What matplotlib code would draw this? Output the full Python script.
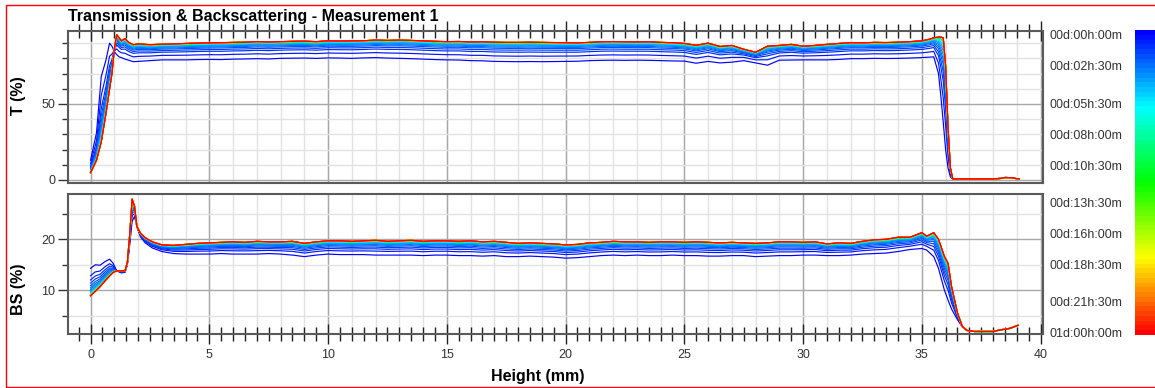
import numpy as np
import matplotlib.pyplot as plt
from matplotlib.colors import ListedColormap, hsv_to_rgb
from matplotlib.patches import Rectangle
from matplotlib.ticker import MultipleLocator

plt.rcParams['font.family'] = ['Liberation Sans', 'DejaVu Sans']

# scan times (hours) and plateau level of each scan read at 10 mm
scan_hours = [0, 0.5, 1, 1.5, 2, 2.5, 3, 3.5, 4, 5, 6, 7, 8, 9, 10, 11, 12,
              13, 14, 15, 16, 17, 18, 19, 20, 21, 22, 23, 24]
t_plateau = [80.3, 83.5, 85.8, 87.0, 88.0, 88.7, 89.3, 89.8, 90.2, 90.6,
             90.9, 91.1, 91.2, 91.25, 91.3, 91.32, 91.35, 91.37, 91.4, 91.42,
             91.43, 91.44, 91.45, 91.46, 91.47, 91.48, 91.5, 91.5, 91.5]
bs_plateau = [17.1, 17.8, 18.2, 18.5, 18.75, 18.95, 19.1, 19.25, 19.35, 19.45,
              19.52, 19.56, 19.6, 19.62, 19.63, 19.64, 19.65, 19.66, 19.66,
              19.67, 19.68, 19.68, 19.69, 19.69, 19.7, 19.7, 19.7, 19.7, 19.7]

colorbar_hours = [0, 2.5, 5.5, 8, 10.5, 13.5, 16, 18.5, 21.5, 24]
colorbar_labels = ['00d:00h:00m', '00d:02h:30m', '00d:05h:30m', '00d:08h:00m',
                   '00d:10h:30m', '00d:13h:30m', '00d:16h:00m', '00d:18h:30m',
                   '00d:21h:30m', '01d:00h:00m']

plateau_x = list(np.arange(4.0, 35.01, 0.5))

# transmission profiles: first scan and last scan
t_height = ([0, 0.25, 0.45, 0.65, 0.8, 0.9, 1.0, 1.1, 1.2, 1.3, 1.45, 1.6, 1.8, 2.0, 2.5, 3.0, 3.5]
            + plateau_x
            + [35.3, 35.5, 35.7, 35.8, 35.9, 36.0, 36.1, 36.2, 36.3, 37.0, 38.0, 38.3, 38.5, 38.8, 39.0, 39.1])
t_first = ([13, 31, 68, 79, 90, 88, 84.5, 82.5, 81, 80.5, 79.5, 78.8, 77.8, 78, 78.5, 79, 79]
           + [79.0, 79.2, 79.3, 79.2, 79.5, 79.6, 79.8, 79.6, 80.0, 80.1,
              80.2, 80.0, 80.3, 80.2, 80.0, 80.3, 80.5, 80.2, 80.0, 79.8,
              79.5, 79.2, 79.0, 78.9, 78.5, 78.4, 78.0, 77.9, 77.8, 77.9,
              77.8, 77.9, 78.0, 78.1, 78.5, 78.7, 78.8, 78.7, 78.8, 78.7,
              78.5, 78.3, 78.2, 76.8, 78.0, 77.0, 77.5, 78.5, 77.0, 75.5,
              78.8, 78.9, 79.0, 79.0, 79.0, 79.3, 79.8, 79.8, 80.0, 79.9,
              80.0, 80.2, 80.5]
           + [80.8, 81.0, 70, 55, 38, 20, 8, 2, 0.7, 0.7, 0.7, 1.0, 1.6, 1.5, 0.8, 0.8])
t_last = ([4.8, 13, 25, 44, 60, 70, 86, 95.5, 93.5, 91.5, 93, 90.5, 89, 89.5, 89, 89.3, 89.5]
          + [89.8, 90.0, 90.2, 90.3, 90.5, 90.6, 91.0, 90.8, 91.0, 91.2,
             91.3, 91.0, 91.5, 91.4, 91.5, 91.6, 92.0, 91.8, 92.0, 91.8,
             91.5, 91.2, 91.0, 91.1, 90.8, 90.9, 90.6, 90.5, 90.5, 90.6,
             90.5, 90.4, 90.3, 90.2, 90.5, 90.9, 91.0, 90.9, 90.8, 90.9,
             90.5, 90.3, 89.8, 88.6, 90.0, 87.8, 88.5, 86.0, 84.0, 88.0,
             88.5, 89.2, 88.0, 88.5, 89.2, 89.8, 90.3, 90.2, 90.5, 90.4,
             90.6, 91.0, 91.5]
          + [92.5, 93.5, 94.0, 94.0, 93.5, 75, 35, 8, 0.7, 0.7, 0.7, 1.0, 1.6, 1.5, 0.8, 0.8])

# backscattering profiles: first scan and last scan
bs_height = ([0, 0.2, 0.4, 0.6, 0.8, 0.95, 1.1, 1.3, 1.45, 1.55, 1.65, 1.75, 1.85, 1.95, 2.1, 2.3, 2.6, 3.0, 3.5]
             + plateau_x
             + [35.2, 35.5, 35.7, 35.95, 36.1, 36.25, 36.5, 36.7, 36.9, 37.2, 38.0, 38.3, 38.7, 39.05])
bs_first = ([14.3, 15.0, 14.9, 15.6, 16.1, 15.3, 13.8, 13.4, 13.5, 15.0, 19.0, 23.5, 24.5, 22.5, 20.5, 19.3, 18.3, 17.6, 17.2]
            + [17.1, 17.1, 17.1, 17.2, 17.1, 17.1, 17.1, 17.2, 17.1, 16.9,
               16.6, 16.9, 17.1, 17.0, 17.0, 17.0, 16.9, 16.9, 16.9, 16.9,
               16.8, 16.9, 16.9, 16.8, 16.8, 16.7, 16.8, 16.6, 16.6, 16.7,
               16.6, 16.5, 16.3, 16.4, 16.6, 16.8, 16.9, 16.8, 16.9, 16.8,
               16.8, 16.9, 16.8, 16.8, 16.7, 16.7, 16.8, 16.8, 16.6, 16.7,
               16.8, 16.8, 16.9, 16.9, 16.8, 16.8, 16.9, 17.1, 17.2, 17.3,
               17.6, 18.0, 18.2]
            + [17.9, 16.6, 14.3, 10.0, 8.1, 6.3, 4.2, 2.8, 2.1, 1.9, 1.9, 2.2, 2.5, 3.1])
bs_last = ([8.9, 9.8, 10.7, 11.8, 12.8, 13.5, 13.8, 13.8, 13.8, 15.5, 21.0, 27.9, 26.5, 22.5, 21.2, 20.3, 19.5, 18.9, 18.8]
           + [19.0, 19.2, 19.3, 19.4, 19.5, 19.4, 19.6, 19.5, 19.5, 19.6,
              19.2, 19.5, 19.7, 19.7, 19.6, 19.7, 19.8, 19.6, 19.7, 19.8,
              19.6, 19.7, 19.7, 19.6, 19.7, 19.5, 19.6, 19.4, 19.2, 19.3,
              19.2, 19.1, 18.9, 19.0, 19.3, 19.4, 19.6, 19.5, 19.5, 19.4,
              19.5, 19.5, 19.4, 19.5, 19.4, 19.3, 19.4, 19.3, 19.2, 19.3,
              19.5, 19.5, 19.4, 19.5, 19.1, 19.3, 19.2, 19.6, 19.9, 20.0,
              20.4, 20.4, 21.3]
           + [20.6, 21.3, 20.0, 16.6, 15.3, 10.7, 5.5, 2.9, 2.1, 1.9, 1.9, 2.2, 2.5, 3.1])


def scan_color(hours):
    return hsv_to_rgb([2 / 3 * (1 - hours / 24), 1, 1])


def draw_scans(ax, x, first, last, plateau):
    x, first, last = np.array(x), np.array(first), np.array(last)
    ref_first = np.interp(10, x, first)
    ref_last = np.interp(10, x, last)
    for h, level in zip(scan_hours, plateau):
        w = (level - ref_first) / (ref_last - ref_first)
        ax.plot(x, first + w * (last - first), color=scan_color(h), lw=0.85)


def style_axes(ax, ymajor, yminor, ylim):
    ax.set_xlim(-0.95, 40.1)
    ax.set_ylim(*ylim)
    ax.xaxis.set_major_locator(MultipleLocator(5))
    ax.xaxis.set_minor_locator(MultipleLocator(0.5))
    ax.yaxis.set_major_locator(MultipleLocator(ymajor))
    ax.yaxis.set_minor_locator(MultipleLocator(yminor))
    for xi in range(0, 41):
        ax.axvline(xi, color='#e2e2e2', lw=1.0, zorder=0)
    ax.grid(which='major', axis='x', color='#a8a8a8', lw=1.0, zorder=0)
    ax.grid(which='major', axis='y', color='#a8a8a8', lw=1.0, zorder=0)
    ax.grid(which='minor', axis='y', color='#e2e2e2', lw=1.0, zorder=0)
    ax.set_axisbelow(True)
    for sp in ax.spines.values():
        sp.set_color('#5a5a5a')
        sp.set_linewidth(1.5)
    ax.tick_params(axis='y', which='major', direction='out', length=7, width=1,
                   color='#333333', labelsize=9, labelcolor='#333333', pad=2)
    ax.tick_params(axis='y', which='minor', direction='out', length=4.5, width=1,
                   color='#333333')
    ax.tick_params(axis='x', which='major', direction='inout', length=14, width=1,
                   color='#222222', labelsize=9, labelcolor='#333333')
    ax.tick_params(axis='x', which='minor', direction='inout', length=10, width=1,
                   color='#222222')


fig = plt.figure(figsize=(11.55, 3.88), dpi=100)
W, H = 1155, 388

ax_t = fig.add_axes([68 / W, 1 - 183 / H, 975 / W, 152 / H])
ax_bs = fig.add_axes([68 / W, 1 - 334 / H, 975 / W, 140 / H])

draw_scans(ax_t, t_height, t_first, t_last, t_plateau)
draw_scans(ax_bs, bs_height, bs_first, bs_last, bs_plateau)

style_axes(ax_t, 50, 10, (-2, 98))
style_axes(ax_bs, 10, 5, (1.4, 28.9))

ax_t.tick_params(axis='x', which='both', bottom=False, top=True,
                 labelbottom=False, labeltop=False)
ax_bs.tick_params(axis='x', which='both', bottom=True, top=False, pad=4)

fig.text(68 / W, 1 - 21 / H, 'Transmission & Backscattering - Measurement 1',
         fontsize=11.5, fontweight='bold', ha='left', va='baseline')
fig.text(18.5 / W, 1 - 96 / H, 'T (%)', fontsize=11.5, fontweight='bold',
         rotation=90, ha='center', va='center')
fig.text(18.5 / W, 1 - 289 / H, 'BS (%)', fontsize=11.5, fontweight='bold',
         rotation=90, ha='center', va='center')
fig.text(538 / W, 1 - 377 / H, 'Height (mm)', fontsize=11.5, fontweight='bold',
         ha='center', va='center')

# colour scale of scan times
cmap = ListedColormap(hsv_to_rgb(np.column_stack([np.linspace(2 / 3, 0, 64),
                                                  np.ones(64), np.ones(64)])))
cax = fig.add_axes([1135 / W, 1 - 335 / H, 21 / W, 305 / H])
cax.imshow(np.linspace(0, 1, 64)[:, None], aspect='auto', cmap=cmap,
           extent=[0, 1, 24.2, -0.4], interpolation='nearest')
cax.set_xticks([])
cax.set_yticks(colorbar_hours)
cax.set_yticklabels(colorbar_labels)
cax.tick_params(axis='y', length=0, pad=9, labelsize=9, labelcolor='#333333')
for sp in cax.spines.values():
    sp.set_visible(False)

fig.patches.append(Rectangle((5.5 / W, 1.5 / H), 1.0, 1 - 6 / H, transform=fig.transFigure,
                             fill=False, edgecolor='#ff0000', lw=1.0))

fig.savefig('out.png', dpi=100)
